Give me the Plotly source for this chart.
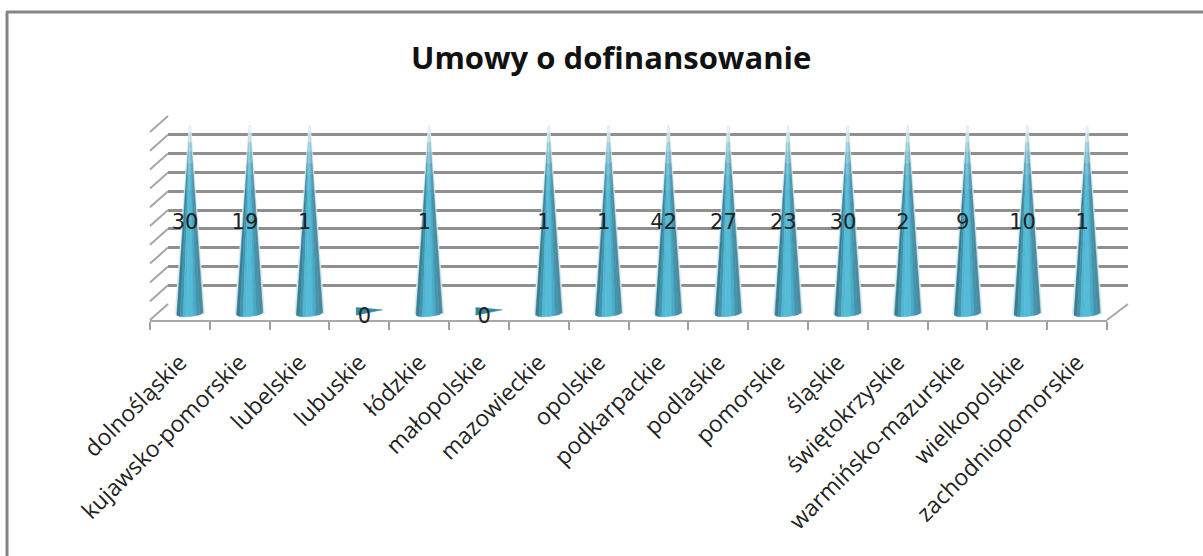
import math
import plotly.graph_objects as go

regions = ["dolnośląskie", "kujawsko-pomorskie", "lubelskie", "lubuskie", "łódzkie",
           "małopolskie", "mazowieckie", "opolskie", "podkarpackie", "podlaskie",
           "pomorskie", "śląskie", "świętokrzyskie", "warmińsko-mazurskie",
           "wielkopolskie", "zachodniopomorskie"]
umowy = [30, 19, 1, 0, 1, 0, 1, 1, 42, 27, 23, 30, 2, 9, 10, 1]
title = "Umowy o dofinansowanie"

# The chart is a 100% stacked cone chart: every non-zero value fills the axis.
shares = [100 if v > 0 else 0 for v in umowy]

W, H = 1203, 556
px = lambda x: x / W
py = lambda y: 1 - y / H

GRID = "#8f8f8f"
bands = ["#3a7e94", "#4195ad", "#52b6d2", "#55bcd8", "#55bcd8", "#4cacc7", "#4296b0", "#4a8ba0"]
levels = [0, .66, .74, .80, .86, .91, .96, 1]
white = [0, .06, .16, .30, .48, .68, .88]


def mix(c, t):
    r, g, b = [int(c[i:i + 2], 16) for i in (1, 3, 5)]
    return "#%02x%02x%02x" % tuple(round(v + (255 - v) * t) for v in (r, g, b))


HW = 0.22    # half base width, in categories
ARC = 1.3    # base curvature, in axis percent
polys = {}


def add(col, xs, ys):
    p = polys.setdefault(col, ([], []))
    p[0].extend(xs + [xs[0], None])
    p[1].extend(ys + [ys[0], None])


def base(u, h, share):
    return share * h + (1 - h) * (-ARC * math.sqrt(max(0, 1 - u * u)) + 0.7 * u)


for i, s in enumerate(shares):
    if s == 0:
        add("#2f8aa3", [i - HW, i + HW, i - HW], [3.4, 2.2, -0.6])
        continue
    hw2 = HW * 1.13
    add("#d6eaef", [i - hw2, i + hw2, i + 0.012, i - 0.012], [0, 0, s + 1, s + 1])
    n = len(bands)
    for j, c in enumerate(bands):
        u0, u1 = -1 + 2 * j / n, -1 + 2 * (j + 1) / n
        for k in range(len(levels) - 1):
            h0, h1 = levels[k], levels[k + 1]
            col = mix(c, white[k])
            add(col,
                [i + HW * u0 * (1 - h0), i + HW * u1 * (1 - h0),
                 i + HW * u1 * (1 - h1), i + HW * u0 * (1 - h1)],
                [base(u0, h0, s), base(u1, h0, s), base(u1, h1, s), base(u0, h1, s)])

fig = go.Figure()

# back wall (gridlines) subplot
fig.add_trace(go.Scatter(x=[0], y=[0], mode="markers", marker=dict(opacity=0),
                         xaxis="x", yaxis="y", hoverinfo="skip", showlegend=False))
# front floor (category axis) subplot
fig.add_trace(go.Scatter(x=regions, y=[0] * len(regions), mode="markers", marker=dict(opacity=0),
                         xaxis="x2", yaxis="y2", hoverinfo="skip", showlegend=False))
# cones
order = sorted(polys, key=lambda c: 0 if c == "#d6eaef" else 1)
for col in order:
    xs, ys = polys[col]
    fig.add_trace(go.Scatter(x=xs, y=ys, mode="lines", fill="toself", fillcolor=col,
                             line=dict(color=col, width=0.5), xaxis="x3", yaxis="y3",
                             hoverinfo="skip", showlegend=False))
# data labels
fig.add_trace(go.Scatter(x=[i - 0.08 for i in range(len(umowy))], y=[s * 0.5 - 2 for s in shares],
                         mode="text", text=[str(v) for v in umowy],
                         textposition="middle center",
                         textfont=dict(family="DejaVu Sans", size=21, color="#222222"),
                         xaxis="x3", yaxis="y3", hoverinfo="skip", showlegend=False))

shapes = []
# frame
shapes.append(dict(type="line", xref="paper", yref="paper", x0=px(7), x1=px(7), y0=py(12), y1=py(556),
                   line=dict(color="#858585", width=3)))
shapes.append(dict(type="line", xref="paper", yref="paper", x0=px(6), x1=px(1203), y0=py(12), y1=py(12),
                   line=dict(color="#858585", width=3)))
# side wall stubs for each gridline
for g in range(0, 101, 10):
    y = 304 - (304 - 116) * g / 100
    shapes.append(dict(type="line", xref="paper", yref="paper", x0=px(150), x1=px(168), y0=py(y + 16), y1=py(y),
                       line=dict(color="#a6a6a6", width=2)))
shapes.append(dict(type="line", xref="paper", yref="paper", x0=px(1107), x1=px(1128), y0=py(320), y1=py(304),
                   line=dict(color="#a6a6a6", width=2)))

fig.update_layout(
    width=W, height=H, margin=dict(l=0, r=0, t=0, b=0),
    paper_bgcolor="white", plot_bgcolor="rgba(0,0,0,0)", showlegend=False,
    shapes=shapes,
    annotations=[dict(text="<b>" + title + "</b>", xref="paper", yref="paper", x=px(611), y=py(57),
                      xanchor="center", yanchor="middle", showarrow=False,
                      font=dict(family="Open Sans", size=31, color="#111111"))],
    xaxis=dict(domain=[px(168), px(1128)], range=[0, 1], visible=False, anchor="y"),
    yaxis=dict(domain=[py(304), py(116)], range=[0, 100], dtick=10, tick0=0, showgrid=True,
               gridcolor=GRID, gridwidth=2.5, zeroline=False, showticklabels=False, ticks="",
               showline=False, anchor="x"),
    xaxis2=dict(domain=[px(150), px(1107)], type="category", categoryorder="array", categoryarray=regions,
                range=[-0.5, 15.5], tickson="boundaries", ticks="outside", ticklen=8, tickwidth=2,
                tickcolor="#a0a0a0", showline=True, linecolor="#a8a8a8", linewidth=2, showgrid=False,
                tickangle=-45, tickfont=dict(family="Open Sans", size=23, color="#222222"),
                ticklabelstandoff=18, anchor="y2", automargin=False),
    yaxis2=dict(domain=[py(320), py(116)], range=[0, 1], visible=False, anchor="x2"),
    xaxis3=dict(domain=[px(160), px(1117)], range=[-0.5, 15.5], visible=False, anchor="y3"),
    yaxis3=dict(domain=[py(323.45), py(125)], range=[-5, 100], visible=False, anchor="x3"),
)

fig.write_html("out.html", config=dict(displayModeBar=False),
               post_script="document.body.style.margin='0';document.body.style.overflow='hidden';")
